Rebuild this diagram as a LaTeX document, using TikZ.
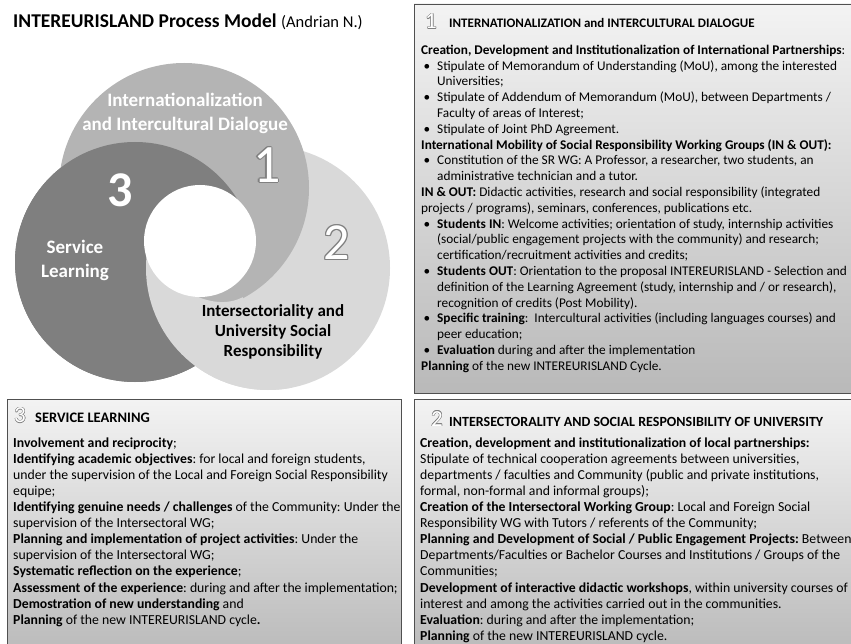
\documentclass[tikz,border=0pt]{standalone}
\usepackage{fontspec}
\setmainfont{Carlito}
\usepackage{tikz}

\definecolor{ringone}{HTML}{B4B4B4}
\definecolor{ringtwo}{HTML}{D9D9D9}
\definecolor{ringthree}{HTML}{7F7F7F}
\definecolor{boxtop}{HTML}{F3F3F3}
\definecolor{boxbot}{HTML}{B9B9B9}
\definecolor{boxline}{HTML}{505050}

\newcommand\ringcopy[3]{\makebox[0pt][l]{\hspace*{#1}\raisebox{#2}{#3}}}
\newcommand\ringdigit[3]{%
	\ringcopy{-#1}{0pt}{\textcolor{#2}{#3}}%
	\ringcopy{#1}{0pt}{\textcolor{#2}{#3}}%
	\ringcopy{0pt}{#1}{\textcolor{#2}{#3}}%
	\ringcopy{0pt}{-#1}{\textcolor{#2}{#3}}%
	\ringcopy{.7\dimexpr#1\relax}{.7\dimexpr#1\relax}{\textcolor{#2}{#3}}%
	\ringcopy{-.7\dimexpr#1\relax}{.7\dimexpr#1\relax}{\textcolor{#2}{#3}}%
	\ringcopy{.7\dimexpr#1\relax}{-.7\dimexpr#1\relax}{\textcolor{#2}{#3}}%
	\ringcopy{-.7\dimexpr#1\relax}{-.7\dimexpr#1\relax}{\textcolor{#2}{#3}}%
	\textcolor{white}{#3}}
\newcommand\bul{\makebox[16pt][l]{\hspace*{2.5pt}\textbullet}}
\newcommand\bulgap{\hspace*{16pt}}

\tikzset{
	panel/.style={draw=boxline, line width=0.7pt, top color=boxtop, bottom color=boxbot},
	bodytext/.style={anchor=north west, align=left, inner sep=0pt},
	headtext/.style={anchor=base west, inner sep=0pt, font=\fontsize{14}{16}\selectfont\bfseries},
	headnum/.style={anchor=base west, inner sep=0pt, font=\fontsize{23}{23}\selectfont},
	ringlabel/.style={align=center, inner sep=0pt, font=\fontsize{19}{23.3}\selectfont\bfseries},
}

\begin{document}
\frenchspacing
\begin{tikzpicture}[x=1pt, y=-1pt]
	\useasboundingbox (0,0) rectangle (851,644);
	\clip (0,0) rectangle (851,644);

	\node[anchor=base west, inner sep=0pt, font=\fontsize{19.5}{23}\selectfont\bfseries] (title) at (13,28) {INTEREURISLAND Process Model {\mdseries\fontsize{16.5}{20}\selectfont(Andrian N.)}};

	% the three rings, each one over the next
	\coordinate (hub) at (200,241);
	\coordinate (cone) at (184,188);
	\coordinate (ctwo) at (268,268);
	\coordinate (cthree) at (135,262);
	\coordinate (seamq) at (195.1,296.8);
	\coordinate (seamt) at (242.7,298.4);
	\coordinate (farab) at (503.6,-100);
	\coordinate (farca) at (-100,333.3);
	\coordinate (farbc) at (336.6,475);

	\fill[ringthree] (cthree) circle [radius=120];
	\fill[ringtwo] (ctwo) circle [radius=122];
	\fill[ringone] (cone) circle [radius=125];
	\begin{scope}
		\clip (hub) -- (seamq) .. controls (208,303) and (226.8,306.8) .. (seamt) -- (farbc) -- (-100,480) -- (-100,-100) -- (farab) -- cycle;
		\fill[ringthree] (cthree) circle [radius=120];
	\end{scope}
	\begin{scope}
		\clip (hub) -- (195.1,295.6) .. controls (208,301.8) and (226.8,305.6) .. (242.7,297.2) -- (339.3,473.6) -- (-100,480) -- (farca) -- cycle;
		\fill[ringtwo] (ctwo) circle [radius=122];
	\end{scope}
	\fill[white] (hub) circle [radius=56];

	\node[ringlabel, text=white] (labone) at (185,113.5) {Internationalization\\and Intercultural Dialogue};
	\node[ringlabel, text=white] (labthree) at (75,260.3) {Service\\Learning};
	\node[ringlabel, font=\fontsize{17}{20}\selectfont\bfseries] (labtwo) at (273,331.7) {Intersectoriality and\\University Social\\Responsibility};
	\node[inner sep=0pt, font=\fontsize{54}{54}\selectfont] (bigone) at (266.7,165.3) {\ringdigit{1.2pt}{gray}{1}};
	\node[inner sep=0pt, font=\fontsize{52}{52}\selectfont] (bigtwo) at (336.7,242.5) {\ringdigit{1.2pt}{gray}{2}};
	\node[inner sep=0pt, text=white, font=\fontsize{50}{50}\selectfont\bfseries] (bigthree) at (120,190) {3};

	% panels
	\draw[panel] (414,4) rectangle (870,393);
	\draw[panel] (414,399) rectangle (870,660);
	\draw[panel] (7,399) rectangle (401,660);

	\node[headnum] (numone) at (425,29) {\ringdigit{0.5pt}{gray}{1}};
	\node[headtext, font=\fontsize{13}{15}\selectfont\bfseries] (headone) at (449,27.5) {INTERNATIONALIZATION and INTERCULTURAL DIALOGUE};
	\node[bodytext, font=\fontsize{13.3}{15.8}\selectfont] (bodyone) at (421,43) {\strut\textbf{Creation, Development and Institutionalization of International Partnerships}:\\
		\bul Stipulate of Memorandum of Understanding (MoU), among the interested\\
		\bulgap Universities;\\
		\bul Stipulate of Addendum of Memorandum (MoU), between Departments /\\
		\bulgap Faculty of areas of Interest;\\
		\bul Stipulate of Joint PhD Agreement.\\
		\textbf{International Mobility of Social Responsibility Working Groups (IN \& OUT):}\\
		\bul Constitution of the SR WG: A Professor, a researcher, two students, an\\
		\bulgap administrative technician and a tutor.\\
		\textbf{IN \& OUT:} Didactic activities, research and social responsibility (integrated\\
		projects / programs), seminars, conferences, publications etc.\\
		\bul \textbf{Students IN}: Welcome activities; orientation of study, internship activities\\
		\bulgap (social/public engagement projects with the community) and research;\\
		\bulgap certification/recruitment activities and credits;\\
		\bul \textbf{Students OUT}: Orientation to the proposal INTEREURISLAND - Selection and\\
		\bulgap definition of the Learning Agreement (study, internship and / or research),\\
		\bulgap recognition of credits (Post Mobility).\\
		\bul \textbf{Specific training}:\ \ Intercultural activities (including languages courses) and\\
		\bulgap peer education;\\
		\bul \textbf{Evaluation} during and after the implementation\\
		\textbf{Planning} of the new INTEREURISLAND Cycle.};

	\node[headnum] (numtwo) at (431,426) {\ringdigit{0.5pt}{gray}{2}};
	\node[headtext] (headtwo) at (449,426) {INTERSECTORALITY AND SOCIAL RESPONSIBILITY OF UNIVERSITY};
	\node[bodytext, font=\fontsize{13.75}{16.1}\selectfont] (bodytwo) at (420,435.7) {\strut\textbf{Creation, development and institutionalization of local partnerships:}\\
		Stipulate of technical cooperation agreements between universities,\\
		departments / faculties and Community (public and private institutions,\\
		formal, non-formal and informal groups);\\
		\textbf{Creation of the Intersectoral Working Group}: Local and Foreign Social\\
		Responsibility WG with Tutors / referents of the Community;\\
		\textbf{Planning and Development of Social / Public Engagement Projects:} Between\\
		Departments/Faculties or Bachelor Courses and Institutions / Groups of the\\
		Communities;\\
		\textbf{Development of interactive didactic workshops}, within university courses of\\
		interest and among the activities carried out in the communities.\\
		\textbf{Evaluation}: during and after the implementation;\\
		\textbf{Planning} of the new INTEREURISLAND cycle.};

	\node[headnum] (numthree) at (14,422.5) {\ringdigit{0.5pt}{gray}{3}};
	\node[headtext, font=\fontsize{14.5}{16}\selectfont\bfseries] (headthree) at (35,422.5) {SERVICE LEARNING};
	\node[bodytext, font=\fontsize{13.75}{16.1}\selectfont] (bodythree) at (13,435.7) {\strut\textbf{Involvement and reciprocity};\\
		\textbf{Identifying academic objectives}: for local and foreign students,\\
		under the supervision of the Local and Foreign Social Responsibility\\
		equipe;\\
		\textbf{Identifying genuine needs / challenges} of the Community: Under the\\
		supervision of the Intersectoral WG;\\
		\textbf{Planning and implementation of project activities}: Under the\\
		supervision of the Intersectoral WG;\\
		\textbf{Systematic reflection on the experience};\\
		\textbf{Assessment of the experience}: during and after the implementation;\\
		\textbf{Demostration of new understanding} and\\
		\textbf{Planning} of the new INTEREURISLAND cycle\textbf{.}};
\end{tikzpicture}
\end{document}
